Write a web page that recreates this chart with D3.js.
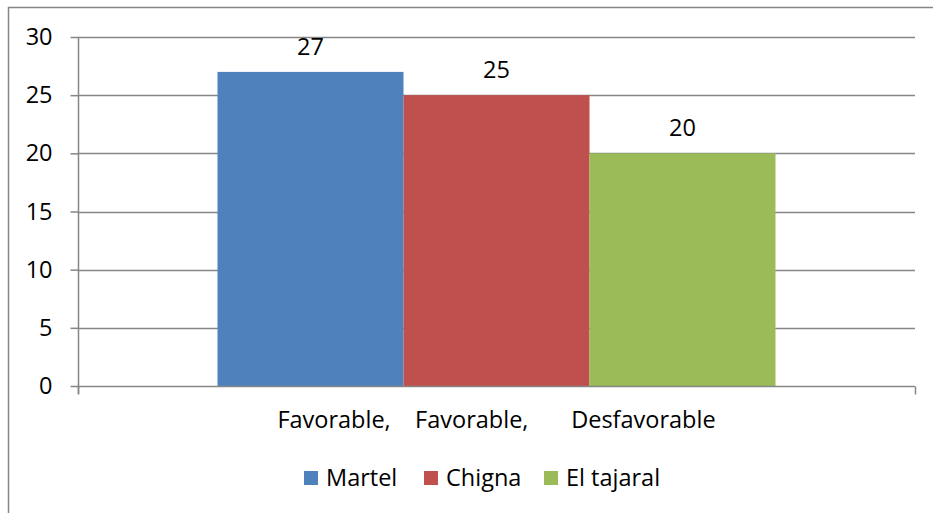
<!DOCTYPE html>
<html><head><meta charset="utf-8">
<script src="https://cdn.jsdelivr.net/npm/d3@7"></script>
<style>
html,body{margin:0;padding:0;background:#fff;overflow:hidden}
text{font-family:"Open Sans",Lato,sans-serif;fill:#000}
</style></head>
<body><svg id="c" width="933" height="513"></svg>
<script>
const categories = ["Favorable,    Favorable,       Desfavorable"];
const seriesNames = ["Martel", "Chigna", "El tajaral"];
const seriesValues = [[27], [25], [20]];
const seriesColors = ["#4F81BD", "#C0504D", "#9BBB59"];
const yTicks = [0, 5, 10, 15, 20, 25, 30];

const FONT = '"Open Sans", Lato, sans-serif';
const FS = 23.5;
const svg = d3.select("#c");
const L = 78, R = 915, T = 37, B = 386;
const grey = "#868686";

svg.append("rect").attr("x", 8.5).attr("y", 7.5).attr("width", 1000).attr("height", 1000)
  .attr("fill", "#fff").attr("stroke", grey).attr("stroke-width", 1.5);

const y = d3.scaleLinear().domain([0, 30]).range([B, T]);
const x0 = d3.scaleBand().domain(categories).range([L, R]).paddingInner(0).paddingOuter(0.25);
const x1 = d3.scaleBand().domain(seriesNames).range([0, x0.bandwidth()]);

// gridlines
svg.append("g").selectAll("line").data(yTicks.filter(d => d > 0)).join("line")
  .attr("x1", L).attr("x2", R).attr("y1", d => Math.round(y(d)) + 0.5).attr("y2", d => Math.round(y(d)) + 0.5)
  .attr("stroke", grey).attr("stroke-width", 1.5);

// bars
const data = [];
categories.forEach((c, ci) => seriesNames.forEach((s, si) => data.push({c, s, v: seriesValues[si][ci], color: seriesColors[si]})));
svg.append("g").selectAll("rect").data(data).join("rect")
  .attr("x", d => x0(d.c) + x1(d.s)).attr("width", x1.bandwidth())
  .attr("y", d => y(d.v)).attr("height", d => y(0) - y(d.v))
  .attr("fill", d => d.color);

// data labels
svg.append("g").selectAll("text").data(data).join("text")
  .attr("x", d => x0(d.c) + x1(d.s) + x1.bandwidth() / 2)
  .attr("y", d => y(d.v) - 17)
  .attr("text-anchor", "middle").attr("font-size", FS)
  .text(d => d.v);

// y axis
const yAxis = d3.axisLeft(y).tickValues(yTicks).tickSize(8).tickPadding(18);
const gy = svg.append("g").attr("transform", `translate(${L + 0.5},0)`).call(yAxis);
gy.select(".domain").attr("stroke", grey).attr("stroke-width", 1.5).attr("d", `M0,${T}V${B + 8}`);
gy.selectAll(".tick line").attr("stroke", grey).attr("stroke-width", 1.5);
gy.selectAll(".tick text").attr("font-size", FS).attr("fill", "#000").style("font-family", FONT);

// x axis
const xAxis = d3.axisBottom(x0).tickSize(0).tickPadding(25);
const gx = svg.append("g").attr("transform", `translate(0,${B + 0.5})`).call(xAxis);
gx.select(".domain").attr("stroke", grey).attr("stroke-width", 1.5).attr("d", `M${L},0H${R}`);
gx.selectAll(".tick text").attr("font-size", FS).attr("fill", "#000")
  .style("font-family", FONT).style("white-space", "pre").attr("xml:space", "preserve");
// category boundary ticks
gx.selectAll(".edge").data([L, R]).join("line").attr("class", "edge")
  .attr("x1", d => d + 0.5).attr("x2", d => d + 0.5).attr("y1", 0).attr("y2", 8)
  .attr("stroke", grey).attr("stroke-width", 1.5);

// legend
const legX = [304, 424, 544];
const lg = svg.append("g").selectAll("g").data(seriesNames).join("g")
  .attr("transform", (d, i) => `translate(${legX[i]},471)`);
lg.append("rect").attr("width", 14).attr("height", 14).attr("fill", (d, i) => seriesColors[i]);
lg.append("text").attr("x", 22).attr("y", 7).attr("dy", "0.35em").attr("font-size", FS).text(d => d);
</script></body></html>
